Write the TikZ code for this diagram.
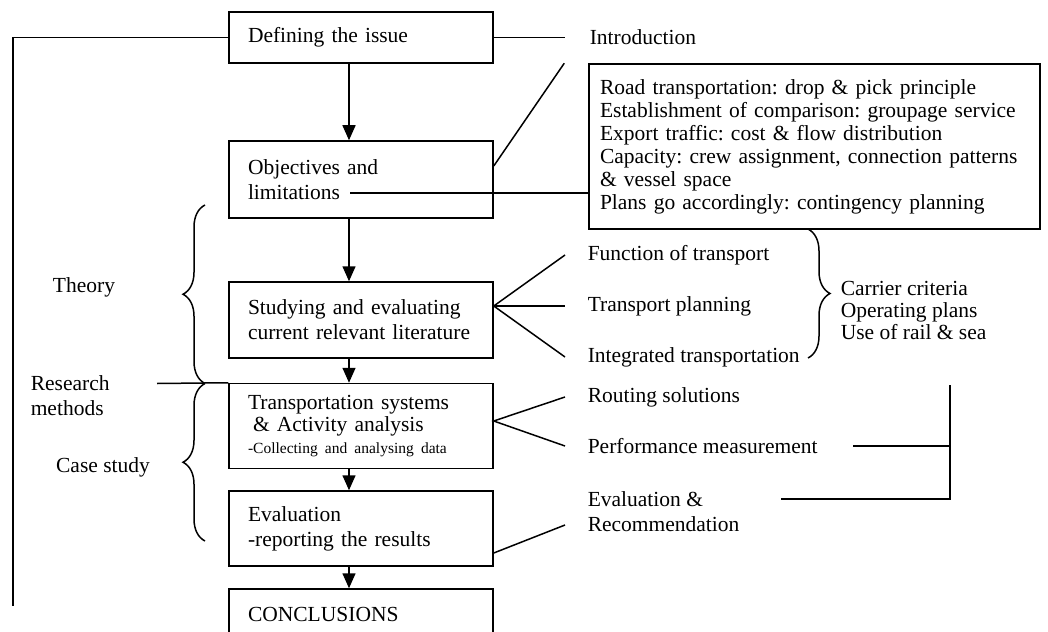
\documentclass[tikz,border=0pt]{standalone}
\usepackage{fontspec}
\setmainfont{Liberation Serif}
\usetikzlibrary{arrows.meta,decorations.pathreplacing}
\frenchspacing

\begin{document}
\begin{tikzpicture}[x=1pt,y=-1pt,>={Triangle[length=15pt,width=13pt]},line width=1.5pt,
		font=\fontsize{21.5}{25}\selectfont,
		box node/.style={draw,rectangle,minimum width=264pt,minimum height=#1,text width=226pt,inner xsep=19pt,align=left},
		box node/.default=51pt,
		side node/.style={anchor=west,inner sep=0pt,align=left},
		brace/.style={decorate,decoration={brace,amplitude=#1}}]
		\useasboundingbox (0,0) rectangle (1048,631);
		% main column
		\node[box node] (def) at (361,37.5) {Defining the issue};
		\node[box node=77pt] (obj) at (361,179.5) {Objectives and\\limitations};
		\node[box node=76pt] (lit) at (361,320) {Studying and evaluating\\current relevant literature};
		\node[box node=85pt,font=\fontsize{21.5}{22}\selectfont] (sys) at (361,426)
			{Transportation systems\\\hspace*{5pt}\& Activity analysis\\{\fontsize{15.5}{17}\selectfont -Collecting and analysing data}};
		\node[box node=75pt] (eva) at (361,528.5) {Evaluation\\-reporting the results};
		\node[box node] (con) at (361,614.5) {CONCLUSIONS};
		\coordinate (ax) at (349,0);
		\foreach \a/\b in {def/obj,obj/lit,lit/sys,sys/eva,eva/con}
			\draw[->] (\a.south -| ax) -- (\b.north -| ax);
		\coordinate (fb) at (13,606);
		\draw (def.west) -| (fb);
		% right hand side
		\node[side node] (intro) at (589,37.5) {Introduction};
		\draw (def.east) -- ([xshift=-24pt]intro.west);
		\node[draw,minimum width=451pt,minimum height=165pt,text width=429pt,inner xsep=11pt,align=left,
			font=\fontsize{21.5}{23}\selectfont] (plan) at (814.5,146.5)
			{Road transportation: drop \& pick principle\\
			Establishment of comparison: groupage service\\
			Export traffic: cost \& flow distribution\\
			Capacity: crew assignment, connection patterns\\
			\& vessel space\\
			Plans go accordingly: contingency planning\par\vspace{6pt}};
		\draw ([yshift=13.5pt]obj.east) -- ([xshift=-24pt]plan.north west);
		\coordinate (lim) at (350,193);
		\draw (lim) -- (lim -| plan.west);
		\node[side node] (func) at (587,255) {Function of transport};
		\node[side node] (tplan) at (587,306) {Transport planning};
		\node[side node] (integ) at (587,357) {Integrated transportation};
		\foreach \n in {func,tplan,integ}
			\draw ([yshift=14pt]lit.east) -- ([xshift=-22pt]\n.west);
		\draw[brace=22pt] (808,229) -- (808,358);
		\node[side node,font=\fontsize{21.5}{22}\selectfont] (crit) at (840,310) {Carrier criteria\\Operating plans\\Use of rail \& sea};
		\node[side node] (rout) at (587,397) {Routing solutions};
		\node[side node] (perf) at (587,446) {Performance measurement};
		\node[side node] (evrec) at (587,512) {Evaluation \&\\Recommendation};
		\draw ([xshift=-22pt]rout.west) -- ([yshift=5pt]sys.east) -- ([xshift=-22pt]perf.west);
		\draw ([yshift=-24.5pt]eva.east) -- ([xshift=-22pt,yshift=-13pt]evrec.west);
		\coordinate (bt) at (950,385);
		\coordinate (bb) at (950,499);
		\coordinate (pm) at (853,446);
		\coordinate (er) at (781,499);
		\draw (bt) -- (bb) -- (er);
		\draw (pm) -- (pm -| bt);
		% left hand side
		\node (theory) at (84,287) {Theory};
		\node[side node] (resm) at (30,396) {Research\\methods};
		\coordinate (rl) at (157,383.5);
		\draw (rl) -- (sys.north west);
		\draw[brace=22pt] (205,383.5) -- (205,205);
		\draw[brace=22pt] (205,541) -- (205,383.5);
		\node (case) at (103,467) {Case study};
\end{tikzpicture}
\end{document}
